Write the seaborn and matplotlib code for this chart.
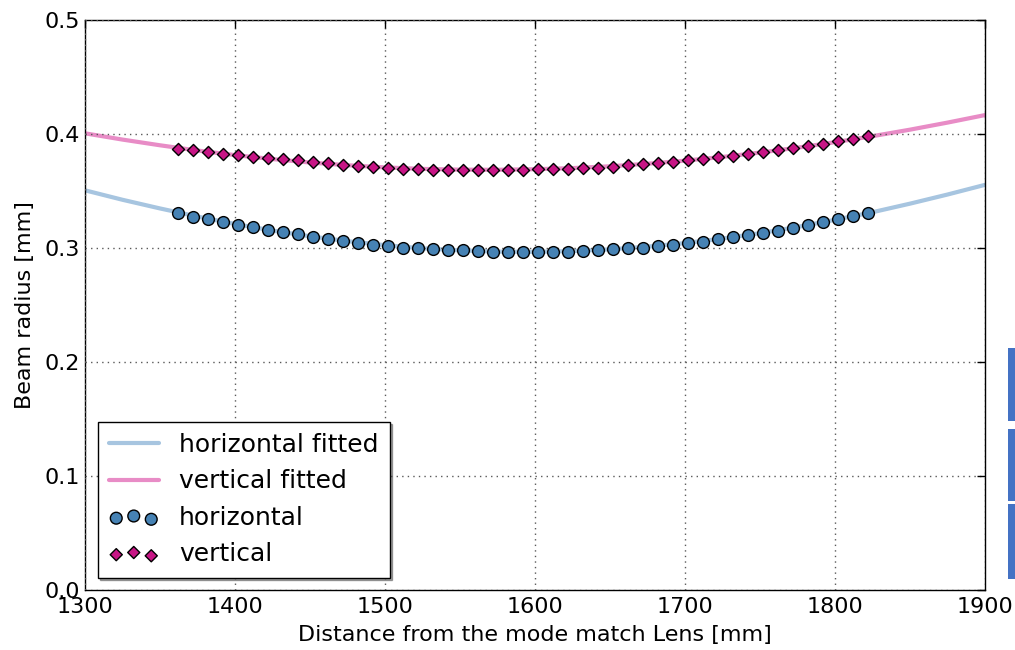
import numpy as np
import pandas as pd
import matplotlib
matplotlib.use("Agg")
import matplotlib.pyplot as plt
from matplotlib.patches import Rectangle
import seaborn as sns

# ---- data ----
z_meas = [1362, 1372, 1382, 1392, 1402, 1412, 1422, 1432, 1442, 1452, 1462, 1472,
          1482, 1492, 1502, 1512, 1522, 1532, 1542, 1552, 1562, 1572, 1582, 1592,
          1602, 1612, 1622, 1632, 1642, 1652, 1662, 1672, 1682, 1692, 1702, 1712,
          1722, 1732, 1742, 1752, 1762, 1772, 1782, 1792, 1802, 1812, 1822]
w_horiz = [0.3304, 0.3275, 0.3252, 0.3225, 0.3205, 0.3181, 0.3161, 0.3140, 0.3120,
           0.3096, 0.3082, 0.3061, 0.3044, 0.3026, 0.3015, 0.3003, 0.2997, 0.2991,
           0.2985, 0.2980, 0.2974, 0.2968, 0.2965, 0.2965, 0.2965, 0.2965, 0.2968,
           0.2974, 0.2980, 0.2989, 0.2997, 0.3003, 0.3015, 0.3026, 0.3041, 0.3056,
           0.3076, 0.3094, 0.3111, 0.3129, 0.3152, 0.3175, 0.3199, 0.3225, 0.3254,
           0.3281, 0.3304]
w_vert = [0.3868, 0.3857, 0.3845, 0.3828, 0.3813, 0.3798, 0.3787, 0.3778, 0.3769,
          0.3754, 0.3743, 0.3731, 0.3719, 0.3708, 0.3699, 0.3690, 0.3690, 0.3687,
          0.3687, 0.3686, 0.3686, 0.3686, 0.3686, 0.3687, 0.3690, 0.3693, 0.3696,
          0.3699, 0.3705, 0.3711, 0.3725, 0.3733, 0.3743, 0.3754, 0.3772, 0.3784,
          0.3796, 0.3810, 0.3822, 0.3839, 0.3857, 0.3874, 0.3895, 0.3912, 0.3936,
          0.3956, 0.3980]

z_fit = [1300, 1325, 1350, 1375, 1400, 1425, 1450, 1475, 1500, 1525, 1550, 1575,
         1600, 1625, 1650, 1675, 1700, 1725, 1750, 1775, 1800, 1825, 1850, 1875, 1900]
w_horiz_fit = [0.3506, 0.3423, 0.3347, 0.3276, 0.3211, 0.3153, 0.3103, 0.3060,
               0.3025, 0.2997, 0.2979, 0.2968, 0.2966, 0.2973, 0.2988, 0.3012,
               0.3043, 0.3083, 0.3130, 0.3185, 0.3247, 0.3314, 0.3389, 0.3469, 0.3554]
w_vert_fit = [0.4006, 0.3951, 0.3901, 0.3855, 0.3815, 0.3780, 0.3750, 0.3726,
              0.3707, 0.3694, 0.3687, 0.3686, 0.3691, 0.3701, 0.3717, 0.3739,
              0.3766, 0.3799, 0.3837, 0.3880, 0.3928, 0.3981, 0.4038, 0.4100, 0.4166]

x_ticks = [1300, 1400, 1500, 1600, 1700, 1800, 1900]
y_ticks = [0.0, 0.1, 0.2, 0.3, 0.4, 0.5]

# ---- style ----
sns.set_style("white")
plt.rcParams.update({
    "font.family": ["DejaVu Sans"],
    "text.color": "black",
    "axes.labelcolor": "black",
    "xtick.color": "black",
    "ytick.color": "black",
    "xtick.direction": "in",
    "ytick.direction": "in",
    "xtick.top": True,
    "ytick.right": True,
    "xtick.major.size": 6,
    "ytick.major.size": 6,
    "axes.edgecolor": "black",
    "axes.linewidth": 1.0,
})

fig = plt.figure(figsize=(10.15, 6.5), dpi=100)
ax = fig.add_axes([85 / 1015, 60 / 650, 900 / 1015, 570 / 650])

fit_df = pd.DataFrame({"z": z_fit, "h": w_horiz_fit, "v": w_vert_fit})
meas_df = pd.DataFrame({"z": z_meas, "h": w_horiz, "v": w_vert})

sns.lineplot(data=fit_df, x="z", y="h", ax=ax, color="#a7c5e0", lw=3,
             label="horizontal fitted", zorder=2)
sns.lineplot(data=fit_df, x="z", y="v", ax=ax, color="#e88cc6", lw=3,
             label="vertical fitted", zorder=2)
sns.scatterplot(data=meas_df, x="z", y="h", ax=ax, color="#4682b4", marker="o",
                s=72, edgecolor="black", linewidth=1.0, label="horizontal", zorder=3)
sns.scatterplot(data=meas_df, x="z", y="v", ax=ax, color="#c71585", marker="D",
                s=38, edgecolor="black", linewidth=1.0, label="vertical", zorder=3)

ax.set_xlim(1300, 1900)
ax.set_ylim(0, 0.5)
ax.set_xticks(x_ticks)
ax.set_yticks(y_ticks)
ax.set_xticklabels([str(t) for t in x_ticks])
ax.set_yticklabels([f"{t:.1f}" for t in y_ticks])
ax.tick_params(labelsize=16, width=1, colors="black")
ax.tick_params(axis="x", pad=5)
ax.grid(True, color="0.35", linestyle=(0, (1, 3)), linewidth=1.0)
ax.set_axisbelow(False)
for sp in ax.spines.values():
    sp.set_visible(True)
    sp.set_color("black")

ax.set_xlabel("Distance from the mode match Lens [mm]", fontsize=16, labelpad=6)
ax.set_ylabel("Beam radius [mm]", fontsize=16, labelpad=7)

leg = ax.legend(loc="lower left", fontsize=18, frameon=True, fancybox=False,
                shadow=True, scatterpoints=3, scatteryoffsets=[0.375, 0.5, 0.3125],
                borderpad=0.45, handlelength=2.0, borderaxespad=0.5,
                labelspacing=0.5)
leg.get_frame().set_edgecolor("black")
leg.get_frame().set_linewidth(1.0)
leg.get_frame().set_alpha(1)

# blue bars at the right figure edge
for y0, y1 in [(348, 421), (429, 501), (504, 579)]:
    fig.patches.append(Rectangle((1008, 650 - y1), 7, y1 - y0, transform=None,
                                 facecolor="#4472c4", edgecolor="none", figure=fig))

fig.savefig("out.png", dpi=100)
